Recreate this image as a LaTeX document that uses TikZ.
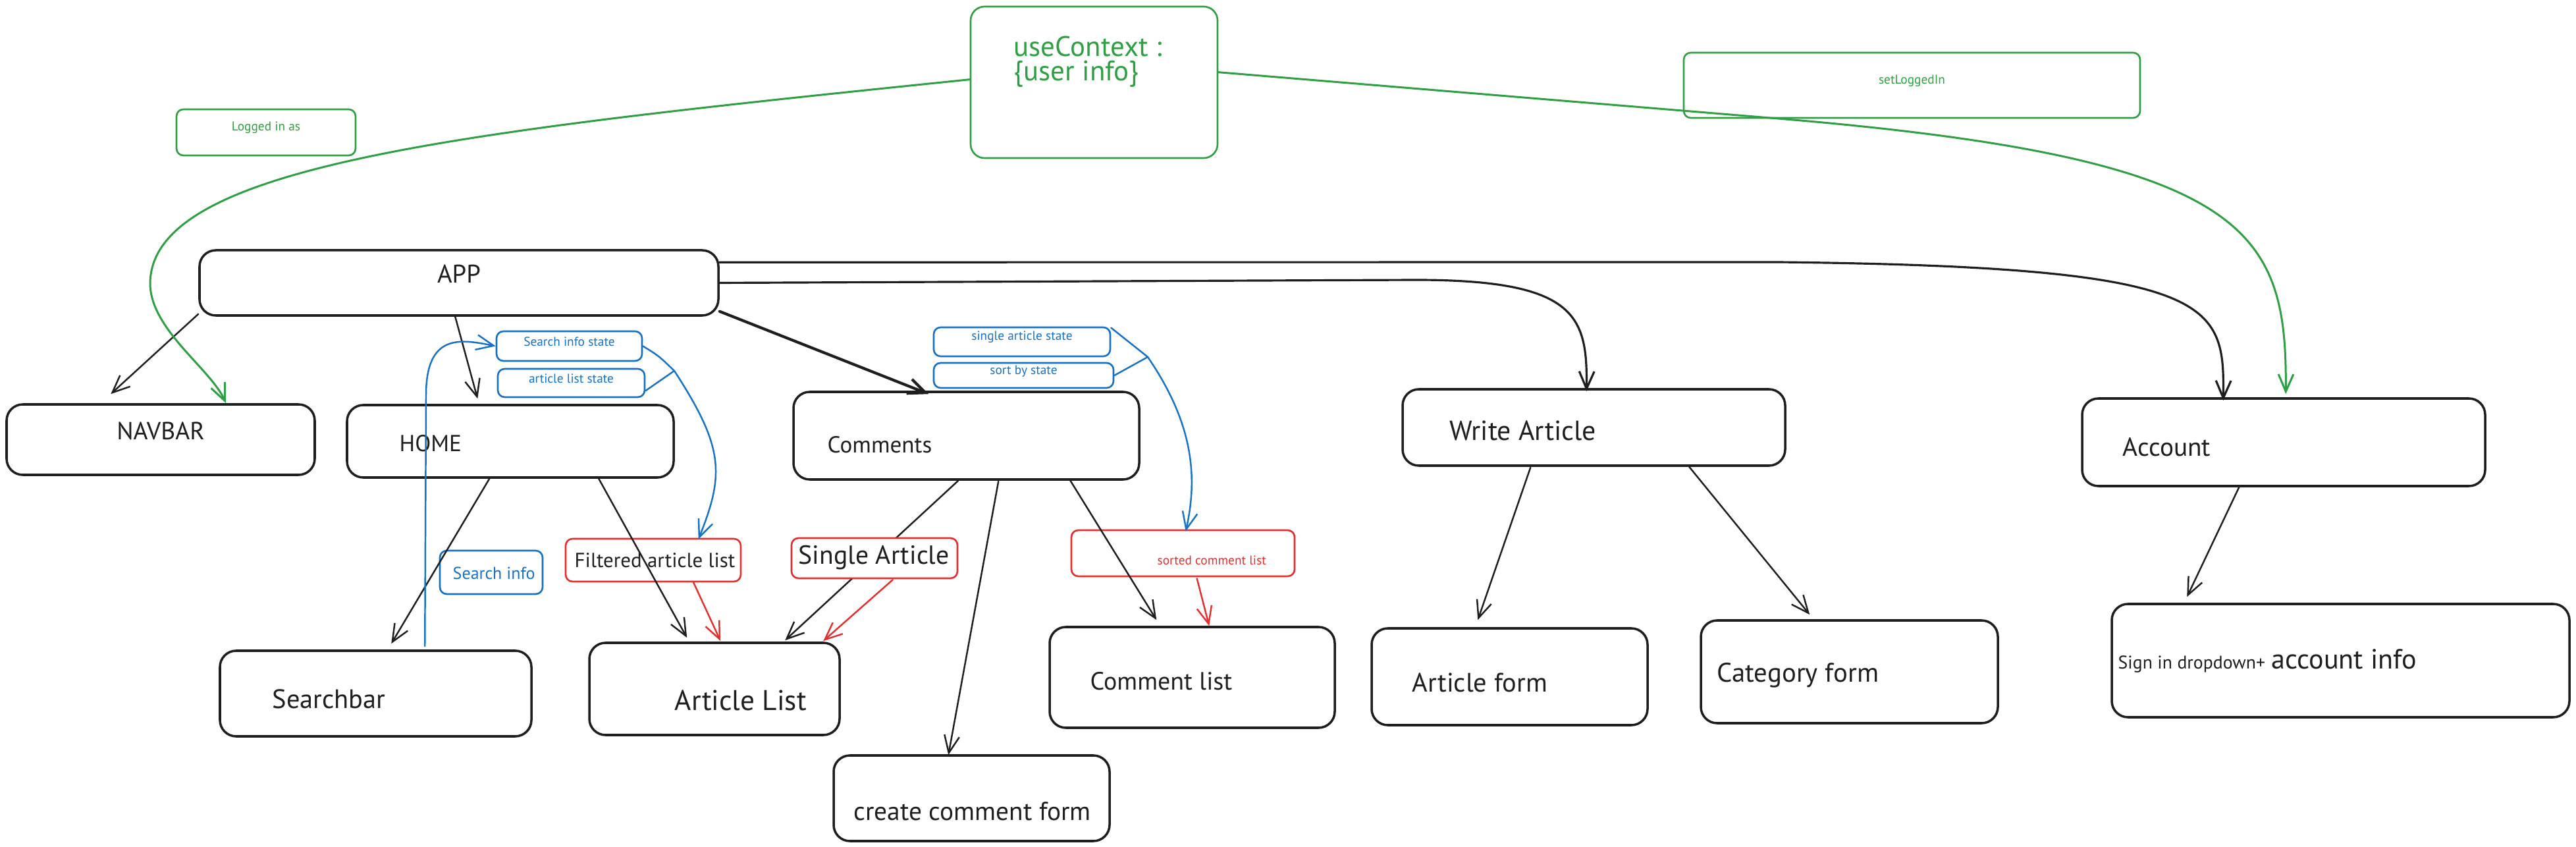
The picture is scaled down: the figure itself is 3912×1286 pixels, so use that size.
\documentclass[tikz,border=0pt]{standalone}
\usepackage{fontspec}
\setmainfont{PT Sans}
\usetikzlibrary{arrows.meta,fit,calc}
\definecolor{xgreen}{HTML}{2F9E44}
\definecolor{xblue}{HTML}{1971C2}
\definecolor{xred}{HTML}{E03131}
\definecolor{xblack}{HTML}{1E1E1E}
\pgfdeclarelayer{bg}
\pgfsetlayers{bg,main}
\begin{document}
\begin{tikzpicture}[x=0.01cm,y=-0.01cm,
  box/.style={draw=xblack, line width=1pt, rounded corners=7pt, inner sep=0pt, text=xblack},
  sbox/.style={draw=#1, line width=0.75pt, rounded corners=3pt, inner sep=0pt},
  lbl/.style={anchor=west, inner sep=0pt, text=xblack},
  fs/.style={font=\fontsize{#1}{#1}\selectfont},
  arr/.style={-{Straight Barb[length=7.5pt,width=6.5pt]}, line width=0.7pt, draw=xblack, line cap=round, line join=round},
  rarr/.style={arr, draw=xred},
  barr/.style={arr, draw=xblue},
  garr/.style={arr, draw=xgreen, line width=0.85pt},
]
\useasboundingbox (0,0) rectangle (3912,1286);

% black boxes
\node[box, fs=11, fit={(303,380) (1091,479)}] (app) {APP};
\node[box, fs=10.7, fit={(10,614) (478,721)}] (navbar) {NAVBAR};
\node[box, fit={(527,615) (1023,725)}] (home) {};
\node[lbl, fs=10] (homeT) at (606,673) {HOME};
\node[box, fit={(1205,595) (1730,728)}] (comments) {};
\node[lbl, fs=10] (commentsT) at (1256,675) {Comments};
\node[box, fit={(2130,591) (2711,707)}] (write) {};
\node[lbl, fs=11.9] (writeT) at (2201,654) {Write Article};
\node[box, fit={(3162,605) (3774,738)}] (account) {};
\node[lbl, fs=11.2] (accountT) at (3223,679) {Account};
\node[box, fit={(334,988) (807,1118)}] (searchbar) {};
\node[lbl, fs=11.5] (searchbarT) at (413,1061) {Searchbar};
\node[box, fit={(895,976) (1275,1116)}] (artlist) {};
\node[lbl, fs=12.3] (artlistT) at (1024,1063) {Article List};
\node[box, fit={(1594,952) (2027,1105)}] (comlist) {};
\node[lbl, fs=10.8] (comlistT) at (1655,1034) {Comment list};
\node[box, fit={(1266,1147) (1685,1277)}] (createform) {};
\node[lbl, fs=11.2] (createformT) at (1296,1232) {create comment form};
\node[box, fit={(2083,954) (2502,1101)}] (artform) {};
\node[lbl, fs=11.5] (artformT) at (2144,1036) {Article form};
\node[box, fit={(2583,942) (3034,1098)}] (catform) {};
\node[lbl, fs=11.6] (catformT) at (2607,1025) {Category form};
\node[box, fit={(3207,917) (3902,1089)}] (signin) {};
\node[lbl] (signinT) at (3216,1004) {{\fontsize{7.9}{9}\selectfont Sign in dropdown+} {\fontsize{12}{14}\selectfont account info}};

% red boxes
\node[sbox=xred, fill=white, fit={(1202,817) (1454,878)}] (single) {};
\node[lbl, fs=11.3] (singleT) at (1212,847) {Single Article};
\node[sbox=xred, fit={(859,818) (1125,883)}] (filtered) {};
\node[lbl, fs=8.8] (filteredT) at (872,851) {Filtered article list};
\node[sbox=xred, fit={(1627,805) (1966,875)}] (sorted) {};
\node[lbl, fs=5.5, text=xred] (sortedT) at (1757,851) {sorted comment list};

% blue boxes
\node[sbox=xblue, fs=5.5, text=xblue, fit={(754,503) (975,548)}] (sis) {Search info state};
\node[sbox=xblue, fs=5.5, text=xblue, fit={(756,560) (979,603)}] (als) {article list state};
\node[sbox=xblue, fs=5.5, text=xblue, fit={(1418,497) (1686,541)}] (sas) {single article state};
\node[sbox=xblue, fs=5.5, text=xblue, fit={(1418,551) (1691,589)}] (sbs) {sort by state};
\node[sbox=xblue, fit={(668,836) (824,902)}] (sinfo) {};
\node[lbl, fs=7.4, text=xblue] (sinfoT) at (687,870) {Search info};

% green boxes
\node[sbox=xgreen, rounded corners=6pt, fit={(1474,10) (1849,240)}] (ctx) {};
\node[lbl, text=xgreen, fs=12.2] (ctxT1) at (1539,70) {useContext :};
\node[lbl, text=xgreen, fs=12.2] (ctxT2) at (1539,112) {\{user info\}};
\node[sbox=xgreen, fs=5.5, text=xgreen, fit={(268,166) (540,236)}] (logged) {Logged in as};
\node[sbox=xgreen, fs=5.5, text=xgreen, fit={(2557,80) (3250,179)}] (setlog) {setLoggedIn};

% black connectors
\begin{pgfonlayer}{bg}
\draw[arr] ([shift={(252,0)}]comments.south west) -- ([shift={(299,-2)}]artlist.north west);
\end{pgfonlayer}
\draw[arr] ([shift={(0,-4)}]app.south west) -- ([shift={(160,-14)}]navbar.north west);
\draw[arr] ([shift={(390,0)}]app.south west) -- ([shift={(200,-8)}]home.north west);
\draw[arr, line width=1.2pt] ([shift={(0,-8)}]app.south east) -- ([shift={(207,5)}]comments.north west);
\draw[arr, line width=0.9pt] (app.east) -- (2150,425) .. controls (2395,425) and (2411,480) .. ([shift={(281,5)}]write.north west);
\draw[arr, line width=0.9pt] ([shift={(0,20)}]app.north east) -- (2700,398) .. controls (3370,405) and (3378,460) .. ([shift={(216,5)}]account.north west);
\draw[arr] ([shift={(218,0)}]home.south west) -- ([shift={(262,-9)}]searchbar.north west);
\draw[arr] ([shift={(384,0)}]home.south west) -- ([shift={(150,-6)}]artlist.north west);
\draw[arr] ([shift={(313,1)}]comments.south west) -- ([shift={(176,1)}]createform.north west);
\draw[arr] ([shift={(421,-2)}]comments.south west) -- ([shift={(164,-9)}]comlist.north west);
\draw[arr] ([shift={(196,1)}]write.south west) -- ([shift={(163,-11)}]artform.north west);
\draw[arr] ([shift={(437,0)}]write.south west) -- ([shift={(167,-7)}]catform.north west);
\draw[arr] ([shift={(240,0)}]account.south west) -- ([shift={(116,-9)}]signin.north west);

% red connectors
\draw[rarr] ([shift={(195,-1)}]filtered.south west) -- ([shift={(201,-1)}]artlist.north west);
\draw[rarr] ([shift={(155,1)}]single.south west) -- ([shift={(357,-1)}]artlist.north west);
\draw[rarr] ([shift={(192,2)}]sorted.south west) -- ([shift={(244,0)}]comlist.north west);

% blue connectors
\coordinate (m1) at (1024,563);
\coordinate (m2) at (1743,542);
\draw[barr] ([shift={(313,-5)}]searchbar.north west) -- (647,600) .. controls (647,505) and (700,515) .. (sis.west);
\draw[barr] (sis.east) .. controls (1000,540) .. (m1) .. controls (1100,680) and (1100,720) .. ([shift={(203,2)}]filtered.north west);
\draw[xblue, line width=0.7pt, line cap=round] ([shift={(0,-11)}]als.south east) -- (m1);
\draw[barr] ([shift={(0,2)}]sas.north east) .. controls (1715,520) .. (m2) .. controls (1810,640) and (1820,720) .. ([shift={(175,3)}]sorted.north west);
\draw[xblue, line width=0.7pt, line cap=round] (sbs.east) -- (m2);

% green connectors
\draw[garr] ([shift={(0,112)}]ctx.north west) .. controls (700,200) and (230,250) .. (228,430) .. controls (228,500) and (320,560) .. ([shift={(335,0)}]navbar.north west);
\draw[garr] ([shift={(0,101)}]ctx.north east) -- (2700,180) .. controls (3420,240) and (3473,350) .. ([shift={(311,-5)}]account.north west);
\end{tikzpicture}
\end{document}
